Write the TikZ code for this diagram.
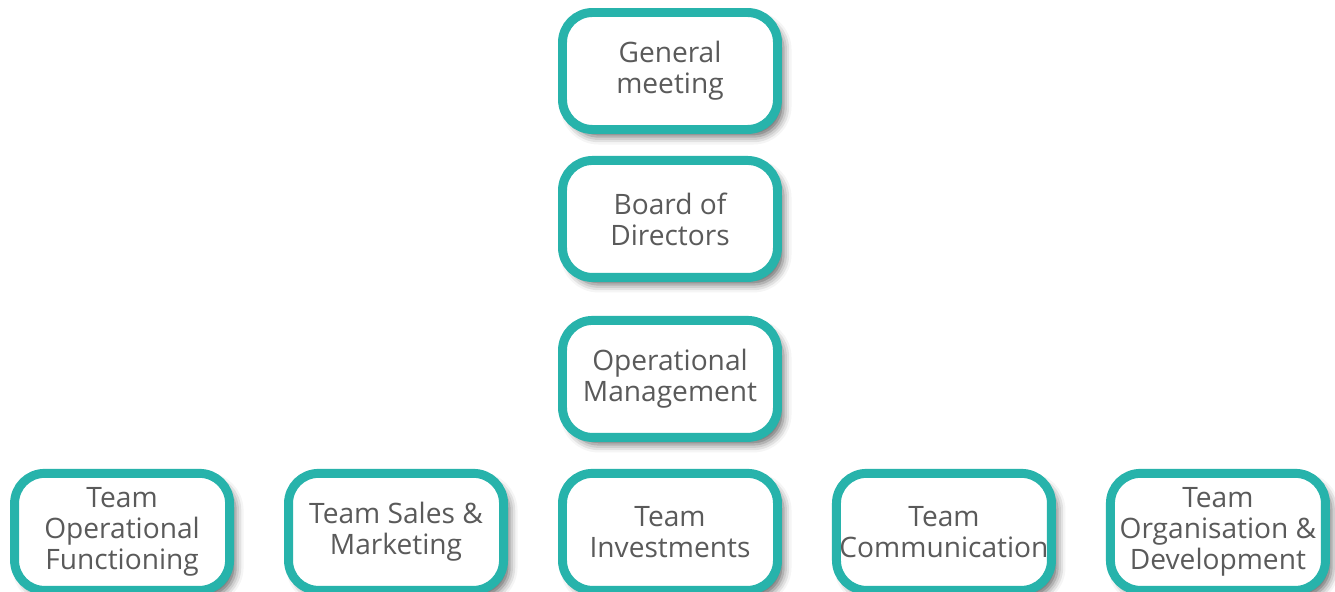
\documentclass[tikz,border=0pt]{standalone}
\usepackage{fontspec}
\setmainfont{Open Sans}
\usepackage{tikz}
\usetikzlibrary{positioning, shadows.blur}
\usepackage{xcolor}
\definecolor{orgteal}{HTML}{27B3AB}
\definecolor{orgtext}{HTML}{5A5A5A}

\begin{document}
\begin{tikzpicture}[
        node distance=1cm,
        every node/.style={font=\fontsize{16}{17.6}\selectfont, text=orgtext},
        orgbox/.style={draw=orgteal, line width=5.1pt, fill=white, rounded corners=0.6cm,
            minimum width=4.3cm, minimum height=2.34cm, align=center, inner sep=0pt,
            blur shadow={shadow xshift=0.12cm, shadow yshift=-0.14cm, shadow blur radius=0.16cm, shadow opacity=60}}
    ]
        \useasboundingbox (0,0) rectangle (26.7,-11.84);

        \node[orgbox] (gm) at (13.4,-1.42) {General\\meeting};
        \node[orgbox, below=0.44cm of gm] (board) {Board of\\Directors};
        \node[orgbox, below=0.68cm of board] (opm) {Operational\\Management};

        % team row
        \node[orgbox, below=0.54cm of opm] (inv) {Team\\Investments};
        \node[orgbox, left=of inv] (sales) {Team Sales \&\\Marketing};
        \node[orgbox, left=of sales] (opf) {Team\\Operational\\Functioning};
        \node[orgbox, right=of inv] (com) {Team\\Communication};
        \node[orgbox, right=of com] (orgdev) {Team\\Organisation \&\\Development};
    \end{tikzpicture}
\end{document}
